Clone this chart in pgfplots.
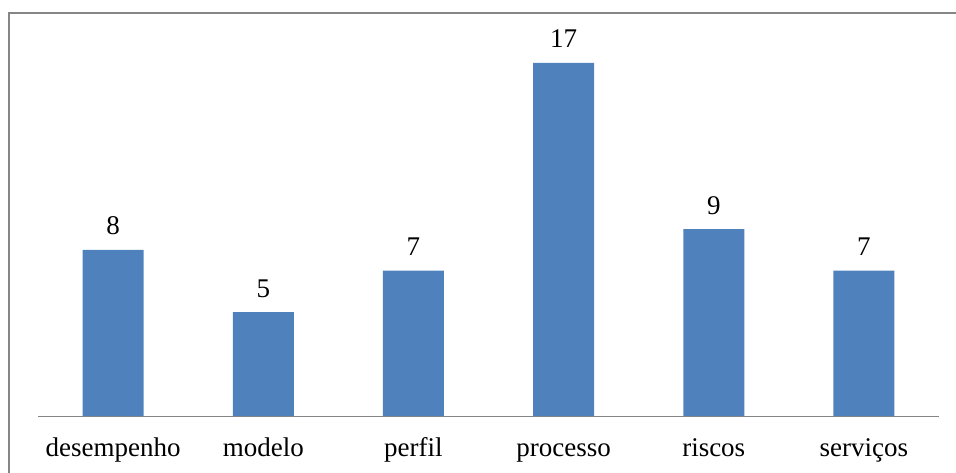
\documentclass[border=0pt]{standalone}
\usepackage{pgfplots}
\pgfplotsset{compat=1.18}
\usepackage{fontspec}
\setmainfont{Liberation Serif}
\definecolor{barblue}{HTML}{4F81BD}
\definecolor{framegray}{HTML}{868686}
\begin{document}
\begin{tikzpicture}[x=1pt,y=1pt]
\useasboundingbox (0,0) rectangle (956,472);
\draw[framegray,line width=2pt] (9,459) rectangle (980,-30);
\begin{axis}[
  at={(38pt,56pt)}, anchor=south west,
  scale only axis, width=901pt, height=374pt,
  xmin=-0.5, xmax=5.5, ymin=0, ymax=18,
  axis y line=none,
  axis x line*=bottom,
  x axis line style={framegray, line width=1pt, -},
  xtick=data,
  xticklabels={desempenho,modelo,perfil,processo,riscos,servi\c{c}os},
  xtick style={draw=none},
  xticklabel style={font=\fontsize{27}{32}\selectfont, anchor=base, yshift=-36pt},
  /pgf/number format/assume math mode=true,
  ybar, bar width=61pt,
  nodes near coords,
  every node near coord/.append style={font=\fontsize{27}{32}\selectfont, black, anchor=base, inner sep=0pt, yshift=15pt},
  clip=false,
]
\addplot[fill=barblue, draw=none] coordinates {(0,8) (1,5) (2,7) (3,17) (4,9) (5,7)};
\end{axis}
\end{tikzpicture}
\end{document}
